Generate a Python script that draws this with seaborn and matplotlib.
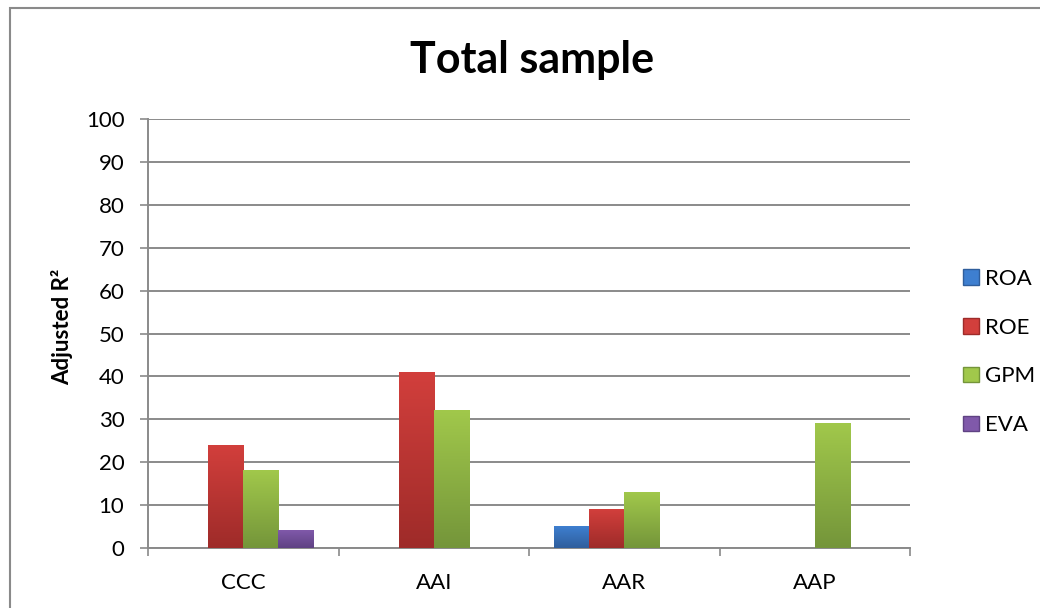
import numpy as np
import pandas as pd
import seaborn as sns
import matplotlib.pyplot as plt
from matplotlib.patches import Rectangle, Patch
from matplotlib.colors import LinearSegmentedColormap

categories = ['CCC', 'AAI', 'AAR', 'AAP']
measures = ['ROA', 'ROE', 'GPM', 'EVA']
roa = [0, 0, 5, 0]
roe = [24, 41, 9, 0]
gpm = [18, 32, 13, 29]
eva = [4, 0, 0, 0]

# top / bottom colour of each gradient bar
top_colors = {'ROA': '#3e7fd0', 'ROE': '#d23f3c', 'GPM': '#a1c84b', 'EVA': '#8059aa'}
bottom_colors = {'ROA': '#2f5e9c', 'ROE': '#9e2b29', 'GPM': '#74953a', 'EVA': '#5f4283'}

df = pd.DataFrame({'category': categories, 'ROA': roa, 'ROE': roe, 'GPM': gpm, 'EVA': eva})
df = df.melt(id_vars='category', var_name='measure', value_name='value')

sns.set_style('white')
plt.rcParams['font.family'] = ['Lato', 'DejaVu Sans']
plt.rcParams['text.color'] = 'black'
plt.rcParams['xtick.labelcolor'] = 'black'
plt.rcParams['ytick.labelcolor'] = 'black'

fig = plt.figure(figsize=(10.4, 6.08), dpi=100)
ax = fig.add_axes([148 / 1040, 1 - 548 / 608, (910 - 148) / 1040, (548 - 119) / 608])

sns.barplot(data=df, x='category', y='value', hue='measure', order=categories,
            hue_order=measures, palette=top_colors, width=0.735, ax=ax,
            legend=False, saturation=1, linewidth=0, zorder=3)

# replace flat bars with vertical gradients
bars = list(ax.patches)
n = len(categories)
for i, bar in enumerate(bars):
    m = measures[i // n]
    x, w, h = bar.get_x(), bar.get_width(), bar.get_height()
    bar.set_visible(False)
    if h <= 0:
        continue
    cmap = LinearSegmentedColormap.from_list(m, [bottom_colors[m], top_colors[m]])
    grad = np.linspace(0, 1, 256).reshape(-1, 1)
    ax.imshow(grad, extent=[x, x + w, 0, h], origin='lower', aspect='auto',
              cmap=cmap, zorder=3)
ax.set_xlim(-0.5, 3.5)
ax.set_ylim(0, 100)

ax.set_yticks(np.arange(0, 101, 10))
ax.yaxis.grid(True, color='#8a8a8a', linewidth=1.4, zorder=0)
ax.set_axisbelow(True)
ax.tick_params(axis='y', length=6, width=1.2, color='#8a8a8a', direction='out',
               pad=11, labelsize=16, left=True)
ax.set_xticks(range(n))
ax.set_xticklabels(categories)
ax.set_xticks(np.arange(-0.5, n, 1), minor=True)
ax.tick_params(axis='x', which='major', length=0, pad=18, labelsize=16)
ax.tick_params(axis='x', which='minor', length=6, width=1.2, color='#8a8a8a',
               direction='out', bottom=True)
for side in ['top', 'right']:
    ax.spines[side].set_visible(False)
for side in ['left', 'bottom']:
    ax.spines[side].set_color('#8a8a8a')
    ax.spines[side].set_linewidth(1.4)
ax.set_xlabel('')
ax.set_ylabel('')

fig.text(532 / 1040, 1 - 60 / 608, 'Total sample', ha='center', va='center',
         fontsize=31, fontweight='bold')
fig.text(62 / 1040, 1 - 327 / 608, 'Adjusted R²', ha='center', va='center',
         rotation=90, fontsize=16, fontweight='bold')

handles = [Patch(facecolor=top_colors[m], edgecolor=bottom_colors[m]) for m in measures]
fig.legend(handles, measures, loc='center left', bbox_to_anchor=(952 / 1040, 1 - 352 / 608),
           frameon=False, fontsize=16, labelspacing=1.3, handlelength=0.7,
           handleheight=0.7, handletextpad=0.3, borderpad=0)

# outer chart frame
fig.patches.append(Rectangle((10 / 1040, -0.05), 1.1, 1 - 8 / 608 + 0.05,
                             transform=fig.transFigure, fill=False,
                             edgecolor='#8a8a8a', linewidth=1.5))

fig.savefig('out.png', dpi=100)
